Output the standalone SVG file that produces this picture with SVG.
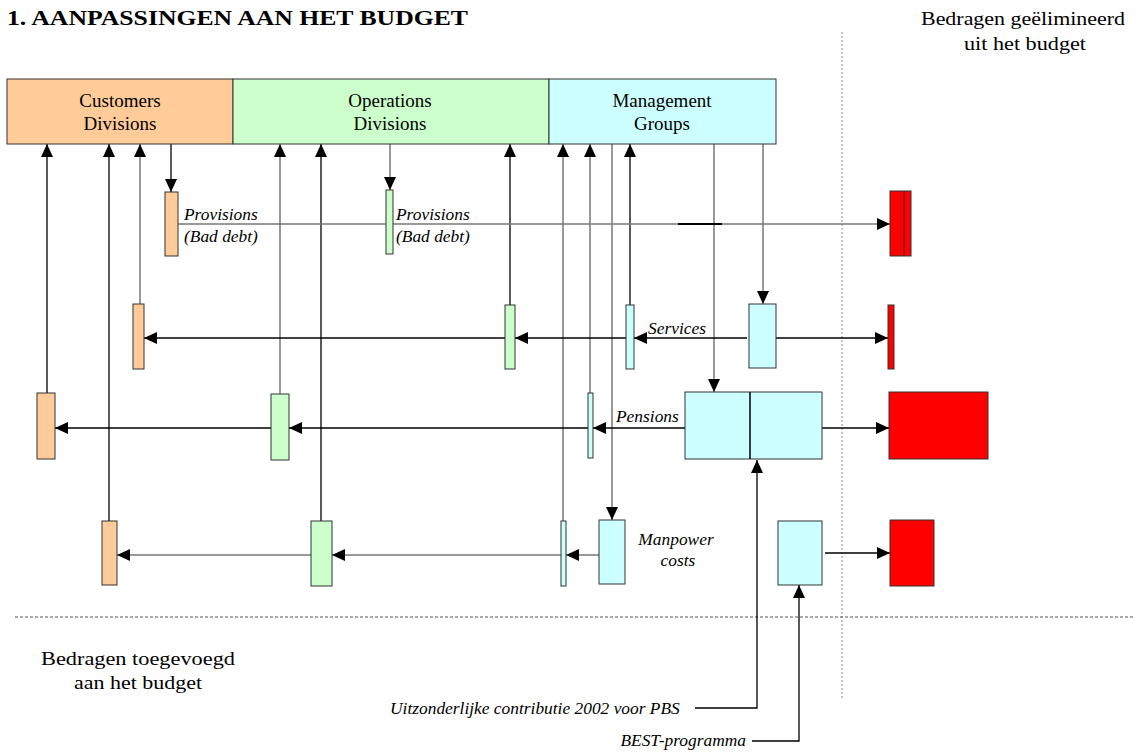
<svg xmlns="http://www.w3.org/2000/svg" width="1135" height="753" viewBox="0 0 1135 753">
<style>
.t{font-family:"Liberation Serif","Times New Roman",serif;fill:#000}
.lbl{font-size:19px;text-anchor:middle}
.it{font-size:17.4px;font-style:italic}
.or{fill:#FFCC99;stroke:#333;stroke-width:1}
.gr{fill:#CCFFCC;stroke:#333;stroke-width:1}
.cy{fill:#CCFFFF;stroke:#333;stroke-width:1}
.rd{fill:#FF0000;stroke:#333;stroke-width:1}
.k{stroke:#000;stroke-width:1.3;fill:none}
.g{stroke:#777;stroke-width:1.5;fill:none}
.a{marker-end:url(#ah)}
</style>
<defs>
<marker id="ah" markerUnits="userSpaceOnUse" markerWidth="13" markerHeight="12" refX="13" refY="6" orient="auto">
<path d="M0,0 L13,6 L0,12 z" fill="#000"/>
</marker>
</defs>
<rect width="1135" height="753" fill="#fff"/>

<g id="title">
<text class="t" x="7" y="25" font-size="22" font-weight="bold" textLength="461" lengthAdjust="spacingAndGlyphs">1. AANPASSINGEN AAN HET BUDGET</text>
</g>
<g id="label-eliminated">
<text class="t lbl" x="1023" y="25" textLength="204" lengthAdjust="spacingAndGlyphs">Bedragen geëlimineerd</text>
<text class="t lbl" x="1025" y="50" textLength="122" lengthAdjust="spacingAndGlyphs">uit het budget</text>
</g>
<g id="label-added">
<text class="t lbl" x="138" y="665" textLength="194" lengthAdjust="spacingAndGlyphs">Bedragen toegevoegd</text>
<text class="t lbl" x="138" y="689" textLength="128" lengthAdjust="spacingAndGlyphs">aan het budget</text>
</g>

<g id="separators">
<line x1="842" y1="32" x2="842" y2="700" stroke="#888" stroke-width="1" stroke-dasharray="2,2"/>
<line x1="15" y1="617" x2="1135" y2="617" stroke="#555" stroke-width="1.2" stroke-dasharray="3,2"/>
</g>

<g id="connectors">
<line class="k a" x1="47" y1="393" x2="47" y2="144"/>
<line class="k a" x1="109" y1="521" x2="109" y2="144"/>
<line class="g a" x1="140" y1="304" x2="140" y2="144"/>
<line class="g a" x1="280" y1="394" x2="280" y2="144"/>
<line class="k a" x1="321" y1="521" x2="321" y2="144"/>
<line class="k a" x1="510" y1="305" x2="510" y2="144"/>
<line class="g a" x1="563" y1="521" x2="563" y2="144"/>
<line class="g a" x1="590" y1="393" x2="590" y2="144"/>
<line class="k a" x1="630" y1="305" x2="630" y2="144"/>
<line class="k a" x1="171" y1="144" x2="171" y2="192"/>
<line class="g a" x1="390" y1="144" x2="390" y2="190"/>
<line class="g a" x1="612" y1="144" x2="612" y2="520"/>
<line class="g a" x1="714" y1="144" x2="714" y2="392"/>
<line class="g a" x1="763" y1="144" x2="763" y2="304"/>
<line class="g" x1="178" y1="224" x2="386" y2="224"/>
<line class="g a" x1="393" y1="224" x2="890" y2="224"/>
<line x1="678" y1="224" x2="722" y2="224" stroke="#000" stroke-width="2"/>
<line class="k a" x1="747" y1="338" x2="634" y2="338"/>
<line class="k a" x1="626" y1="338" x2="515" y2="338"/>
<line class="k a" x1="505" y1="338" x2="144" y2="338"/>
<line class="k a" x1="776" y1="338" x2="888" y2="338"/>
<line class="k a" x1="685" y1="428" x2="593" y2="428"/>
<line class="k a" x1="588" y1="428" x2="289" y2="428"/>
<line class="k a" x1="271" y1="428" x2="55" y2="428"/>
<line class="k a" x1="822" y1="428" x2="889" y2="428"/>
<line class="g a" x1="599" y1="555" x2="566" y2="555"/>
<line class="g a" x1="561" y1="555" x2="332" y2="555"/>
<line class="g a" x1="311" y1="555" x2="117" y2="555"/>
<line class="k a" x1="825" y1="553" x2="890" y2="553"/>
<polyline class="k a" points="695,708 757,708 757,460"/>
<polyline class="k a" points="752,741 799,741 799,585"/>
</g>

<g id="customers-divisions">
<rect class="or" x="7" y="79" width="226" height="65"/>
<text class="t lbl" x="120" y="107">Customers</text>
<text class="t lbl" x="120" y="130">Divisions</text>
</g>
<g id="operations-divisions">
<rect class="gr" x="233" y="79" width="316" height="65"/>
<text class="t lbl" x="390" y="107">Operations</text>
<text class="t lbl" x="390" y="130">Divisions</text>
</g>
<g id="management-groups">
<rect class="cy" x="549" y="79" width="227" height="65"/>
<text class="t lbl" x="662" y="107">Management</text>
<text class="t lbl" x="662" y="130">Groups</text>
</g>

<g id="provisions-cd">
<rect class="or" x="165" y="192" width="13" height="64"/>
<text class="t it" x="184" y="220">Provisions</text>
<text class="t it" x="184" y="242">(Bad debt)</text>
</g>
<g id="provisions-od">
<rect class="gr" x="386" y="190" width="7" height="64"/>
<text class="t it" x="396" y="220">Provisions</text>
<text class="t it" x="396" y="242">(Bad debt)</text>
</g>
<g id="provisions-eliminated">
<rect class="rd" x="890" y="191" width="21" height="65"/>
<line x1="904" y1="191" x2="904" y2="256" stroke="#333" stroke-width="1"/>
</g>

<g id="services-cd"><rect class="or" x="133" y="304" width="11" height="65"/></g>
<g id="services-od"><rect class="gr" x="505" y="305" width="10" height="64"/></g>
<g id="services-mg"><rect class="cy" x="626" y="305" width="8" height="64"/></g>
<g id="services">
<rect class="cy" x="749" y="304" width="27" height="64"/>
<text class="t it" x="648" y="334">Services</text>
</g>
<g id="services-eliminated"><rect class="rd" x="888" y="305" width="6" height="64"/></g>

<g id="pensions-cd"><rect class="or" x="37" y="393" width="18" height="66"/></g>
<g id="pensions-od"><rect class="gr" x="271" y="394" width="18" height="66"/></g>
<g id="pensions-mg"><rect class="cy" x="588" y="393" width="5" height="65"/></g>
<g id="pensions">
<rect class="cy" x="685" y="392" width="137" height="67"/>
<line x1="750" y1="392" x2="750" y2="459" stroke="#000" stroke-width="1.5"/>
<text class="t it" x="616" y="422">Pensions</text>
</g>
<g id="pensions-eliminated"><rect class="rd" x="889" y="392" width="99" height="67"/></g>

<g id="manpower-cd"><rect class="or" x="102" y="521" width="15" height="64"/></g>
<g id="manpower-od"><rect class="gr" x="311" y="521" width="21" height="65"/></g>
<g id="manpower-mg"><rect class="cy" x="561" y="521" width="5" height="65"/></g>
<g id="manpower">
<rect class="cy" x="599" y="520" width="26" height="64"/>
<text class="t it" x="676" y="545" text-anchor="middle">Manpower</text>
<text class="t it" x="678" y="566" text-anchor="middle">costs</text>
</g>
<g id="best">
<rect class="cy" x="778" y="521" width="44" height="64"/>
</g>
<g id="best-eliminated"><rect class="rd" x="890" y="520" width="44" height="66"/></g>

<g id="input-labels">
<text class="t it" x="390" y="714">Uitzonderlijke contributie 2002 voor PBS</text>
<text class="t it" x="746" y="746" text-anchor="end">BEST-programma</text>
</g>
</svg>
